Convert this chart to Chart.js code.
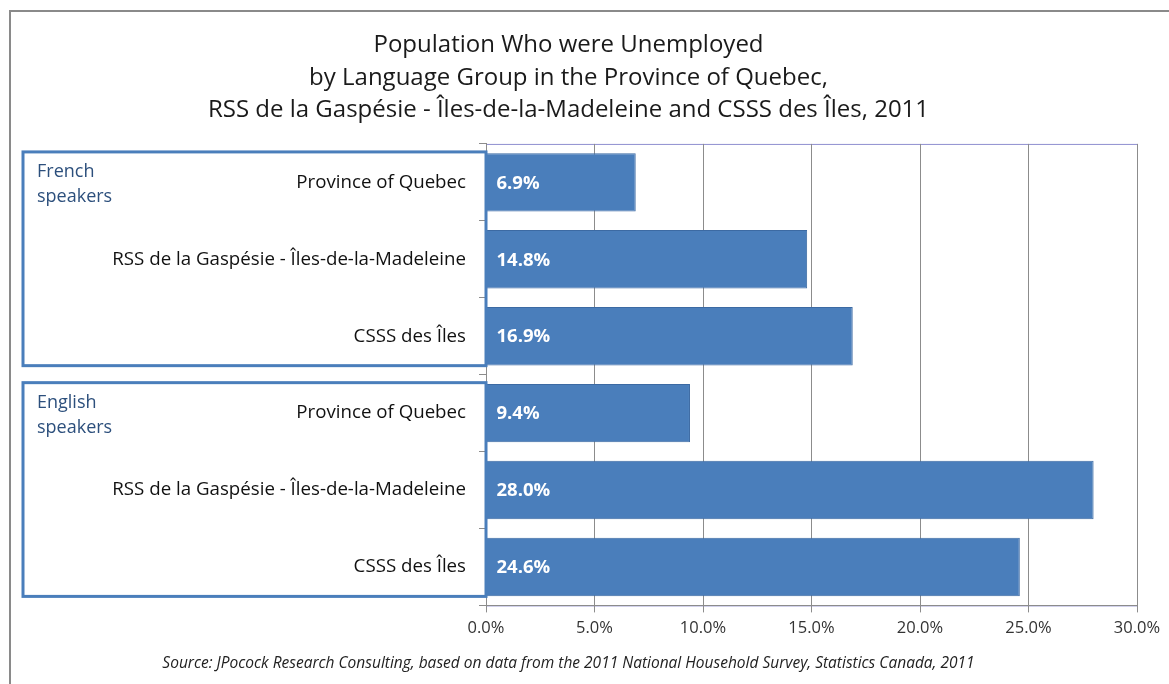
<!DOCTYPE html>
<html>
<head>
<meta charset="utf-8">
<script src="https://cdn.jsdelivr.net/npm/chart.js@4.4.1/dist/chart.umd.min.js"></script>
<style>
    html, body { margin: 0; padding: 0; background: #fff; }
    #wrap { width: 1169px; height: 684px; }
</style>
</head>
<body>
<div id="wrap"><canvas id="unemployedChart" width="1169" height="684"></canvas></div>
<script>
const titleLines = [
    'Population Who were Unemployed',
    'by Language Group in the Province of Quebec,',
    'RSS de la Gaspésie - Îles-de-la-Madeleine and CSSS des Îles, 2011'
];
const categories = [
    'Province of Quebec',
    'RSS de la Gaspésie - Îles-de-la-Madeleine',
    'CSSS des Îles',
    'Province of Quebec',
    'RSS de la Gaspésie - Îles-de-la-Madeleine',
    'CSSS des Îles'
];
const unemployedPct = [6.9, 14.8, 16.9, 9.4, 28.0, 24.6];
const groupNames = [['French', 'speakers'], ['English', 'speakers']];
const groupRanges = [[0, 2], [3, 5]];
const xTicks = [0, 5, 10, 15, 20, 25, 30];
const sourceText = 'Source: JPocock Research Consulting, based on data from the 2011 National Household Survey, Statistics Canada, 2011';

const FONT = '"Open Sans", Lato, sans-serif';
const BAR_BLUE = '#4a7ebb';
const BOX_BLUE = '#4a7ebb';

// frame + plot area border
const frameDraw = {
    id: 'frameDraw',
    beforeDraw(chart) {
        const ctx = chart.ctx;
        const a = chart.chartArea;
        ctx.save();
        ctx.strokeStyle = '#8a8a8a';
        ctx.lineWidth = 2;
        ctx.beginPath();
        ctx.moveTo(10, chart.height);
        ctx.lineTo(10, 11);
        ctx.lineTo(chart.width, 11);
        ctx.stroke();
        ctx.strokeStyle = '#8f8fd0';
        ctx.lineWidth = 1;
        ctx.strokeRect(a.left + 0.5, a.top + 0.5, a.right - a.left, a.bottom - a.top);
        ctx.restore();
    }
};

// values written inside the bars
const barValues = {
    id: 'barValues',
    afterDatasetsDraw(chart) {
        const ctx = chart.ctx;
        const meta = chart.getDatasetMeta(0);
        ctx.save();
        ctx.font = 'bold 18.5px ' + FONT;
        ctx.fillStyle = '#ffffff';
        ctx.textBaseline = 'middle';
        ctx.textAlign = 'left';
        meta.data.forEach((bar, i) => {
            ctx.fillText(unemployedPct[i].toFixed(1) + '%', bar.base + 10, bar.y + 1);
        });
        ctx.restore();
    }
};

// language group boxes round the category labels
const groupBoxes = {
    id: 'groupBoxes',
    afterDraw(chart) {
        const ctx = chart.ctx;
        const y = chart.scales.y;
        const half = (y.getPixelForValue(1) - y.getPixelForValue(0)) / 2;
        ctx.save();
        groupRanges.forEach((r, g) => {
            const top = y.getPixelForValue(r[0]) - half + 8;
            const bottom = y.getPixelForValue(r[1]) + half - 9;
            ctx.strokeStyle = BOX_BLUE;
            ctx.lineWidth = 3;
            ctx.strokeRect(23, top, chart.chartArea.left - 23, bottom - top);
            ctx.fillStyle = '#2c4f7c';
            ctx.font = '18px ' + FONT;
            ctx.textAlign = 'left';
            ctx.textBaseline = 'middle';
            groupNames[g].forEach((line, k) => {
                ctx.fillText(line, 37, top + 20 + k * 25);
            });
        });
        ctx.restore();
    }
};

new Chart(document.getElementById('unemployedChart'), {
    type: 'bar',
    data: {
        labels: categories,
        datasets: [{
            data: unemployedPct,
            backgroundColor: BAR_BLUE,
            borderColor: '#3c6aa3',
            borderWidth: 1,
            categoryPercentage: 1,
            barPercentage: 0.76
        }]
    },
    options: {
        indexAxis: 'y',
        responsive: false,
        animation: false,
        layout: { padding: { left: 0, right: 32, top: 0, bottom: 0 } },
        scales: {
            x: {
                min: 0,
                max: 30,
                afterBuildTicks: (axis) => { axis.ticks = xTicks.map(v => ({ value: v })); },
                ticks: {
                    callback: (v) => Number(v).toFixed(1) + '%',
                    color: '#333',
                    font: { family: FONT, size: 16.5 },
                    padding: 6
                },
                grid: { color: '#8c8c8c', tickLength: 7, drawOnChartArea: true },
                border: { color: '#8c8c8c' },
                afterFit: (axis) => { axis.height = 46; }
            },
            y: {
                ticks: {
                    color: '#111',
                    font: { family: FONT, size: 18.7 },
                    padding: 13,
                    crossAlign: 'near'
                },
                grid: { drawOnChartArea: false, tickLength: 7, color: '#8c8c8c', offset: true },
                border: { color: '#8c8c8c' },
                afterFit: (axis) => { axis.width = 486; }
            }
        },
        plugins: {
            legend: { display: false },
            tooltip: { enabled: false },
            title: {
                display: true,
                text: titleLines,
                color: '#1a1a1a',
                font: { family: FONT, size: 24, weight: 'normal', lineHeight: 1.36 },
                padding: { top: 29, bottom: 17 }
            },
            subtitle: {
                display: true,
                position: 'bottom',
                text: sourceText,
                color: '#222',
                font: { family: FONT, size: 15.5, style: 'italic' },
                padding: { top: 3, bottom: 11 }
            }
        }
    },
    plugins: [frameDraw, barValues, groupBoxes]
});
</script>
</body>
</html>
